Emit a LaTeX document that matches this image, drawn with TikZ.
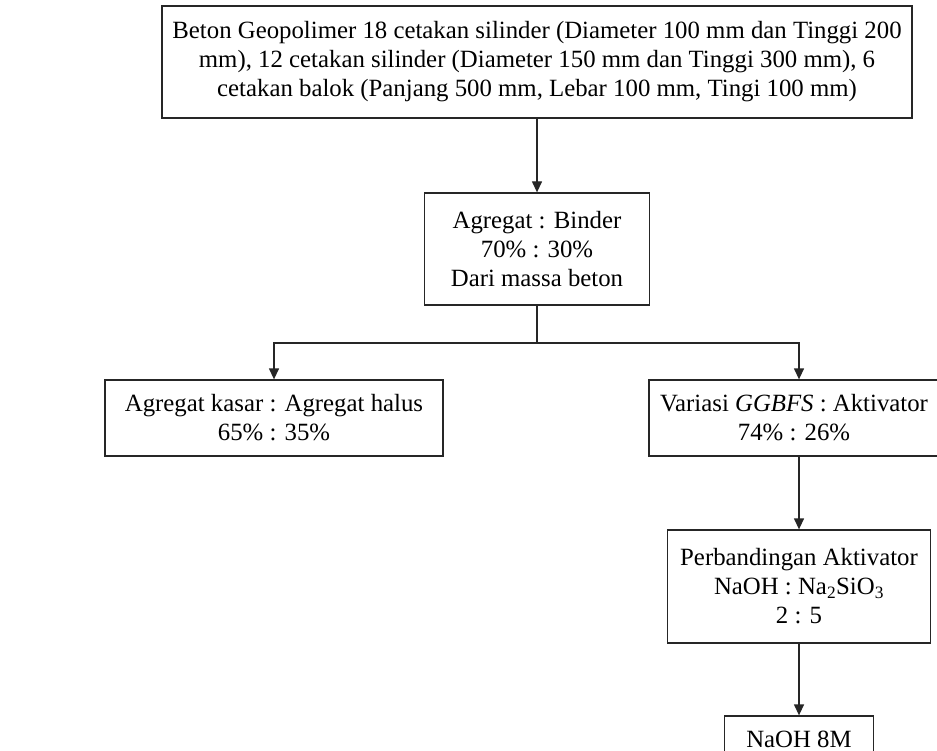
\documentclass[tikz,border=0pt]{standalone}
\usepackage{fontspec}
\setmainfont{Liberation Serif}
\usetikzlibrary{arrows.meta}
\tikzset{
  box/.style={draw=black!85, line width=1.3pt, align=center, inner sep=0pt,
    font=\fontsize{24.8}{29}\selectfont},
  arr/.style={draw=black!85, line width=1.3pt, -{Triangle[length=11pt,width=10pt]}},
  ln/.style={draw=black!85, line width=1.3pt}
}
\begin{document}
\begin{tikzpicture}[x=1pt,y=-1pt]
\useasboundingbox (0,0) rectangle (937,751);
\clip (0,0) rectangle (937,751);
\fill[white] (0,0) rectangle (937,751);
\node[box, minimum width=750pt, minimum height=112pt] (top) at (537,62)
  {Beton Geopolimer 18 cetakan silinder (Diameter 100 mm dan Tinggi 200\\
   mm), 12 cetakan silinder (Diameter 150 mm dan Tinggi 300 mm), 6\\
   cetakan balok (Panjang 500 mm, Lebar 100 mm, Tingi 100 mm)};
\node[box, minimum width=225pt, minimum height=112pt] (mid) at (537,249)
  {Agregat : Binder\\ 70\% : 30\%\\ Dari massa beton};
\node[box, minimum width=338pt, minimum height=76pt] (left) at (274,418)
  {Agregat kasar : Agregat halus\\ 65\% : 35\%};
\node[box, minimum width=290pt, minimum height=76pt] (right) at (794,418)
  {Variasi \textit{GGBFS} : Aktivator\\ 74\% : 26\%};
\node[box, minimum width=263pt, minimum height=113pt] (perb) at (799,586.5)
  {Perbandingan Aktivator\\ NaOH : Na\textsubscript{2}SiO\textsubscript{3}\\ 2 : 5};
\node[box, minimum width=149pt, minimum height=46pt] (naoh) at (799,739)
  {NaOH 8M};
\coordinate (bar) at (0,343);
\draw[arr] (top.south -| mid.north) -- (mid.north);
\draw[ln] (mid.south) -- (mid.south |- bar);
\draw[arr] (mid.south |- bar) -| (left.north);
\draw[arr] (mid.south |- bar) -| (perb.north |- right.north);
\draw[arr] (perb.north |- right.south) -- (perb.north);
\draw[arr] (perb.south) -- (naoh.north);
\end{tikzpicture}
\end{document}
